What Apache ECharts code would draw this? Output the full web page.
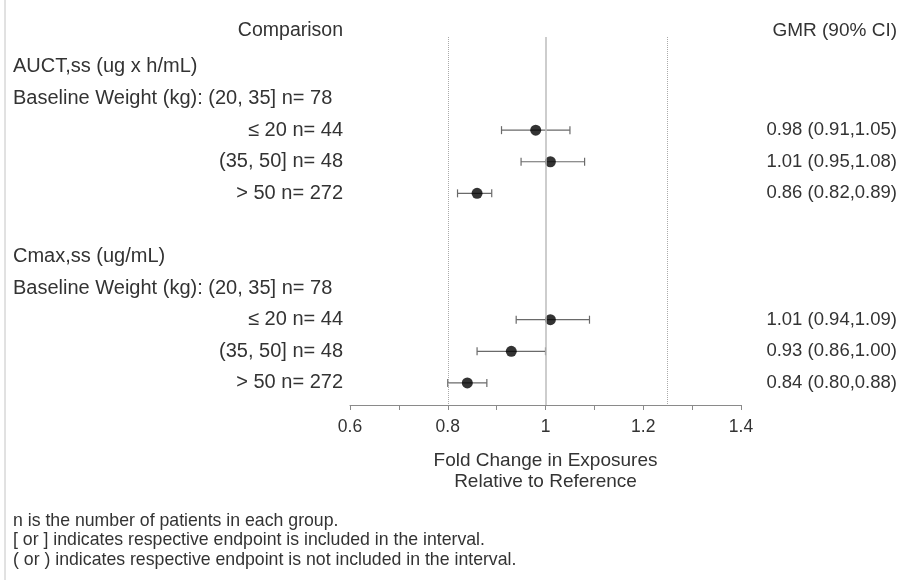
<!DOCTYPE html>
<html>
<head>
<meta charset="utf-8">
<script src="https://cdn.jsdelivr.net/npm/echarts@6/dist/echarts.min.js"></script>
<style>
html,body{margin:0;padding:0;background:#fff;}
#main{width:909px;height:580px;}
</style>
</head>
<body>
<div id="main"></div>
<script>
// ---- data ----
const rowLabels = [
  'AUCT,ss (ug x h/mL)',
  'Baseline Weight (kg): (20, 35] n= 78',
  '\u2264 20 n= 44',
  '(35, 50] n= 48',
  '> 50 n= 272',
  '',
  'Cmax,ss (ug/mL)',
  'Baseline Weight (kg): (20, 35] n= 78',
  '\u2264 20 n= 44',
  '(35, 50] n= 48',
  '> 50 n= 272'
];
const rowAlign = ['left','left','right','right','right','left','left','left','right','right','right'];
const pointRows = [2, 3, 4, 8, 9, 10];
const gmr   = [0.98, 1.01, 0.86, 1.01, 0.93, 0.84];
const lower = [0.91, 0.95, 0.82, 0.94, 0.86, 0.80];
const upper = [1.05, 1.08, 0.89, 1.09, 1.00, 0.88];
const gmrText = ['0.98 (0.91,1.05)','1.01 (0.95,1.08)','0.86 (0.82,0.89)','1.01 (0.94,1.09)','0.93 (0.86,1.00)','0.84 (0.80,0.88)'];
const refLines = [0.8, 1, 1.25];
const xTicks = [0.6, 1.4, 0.2];
const footnotes = [
  'n is the number of patients in each group.',
  '[ or ] indicates respective endpoint is included in the interval.',
  '( or ) indicates respective endpoint is not included in the interval.'
];

const FONT = '"Liberation Sans", Arial, Helvetica, sans-serif';
const TXT = '#333333';

const chart = echarts.init(document.getElementById('main'), null, {renderer:'canvas'});

const errData = pointRows.map((r,i)=>[lower[i], upper[i], r]);
const ptData = pointRows.map((r,i)=>[gmr[i], r]);

const option = {
  animation:false,
  backgroundColor:'#fff',
  grid:{left:350, right:909-741, top:37, bottom:580-405, containLabel:false},
  xAxis:{
    type:'value', min:xTicks[0], max:xTicks[1], interval:xTicks[2],
    axisLine:{show:true, onZero:false, lineStyle:{color:'#8a8a8a', width:1}},
    axisTick:{show:true, length:5, lineStyle:{color:'#8a8a8a'}},
    minorTick:{show:true, splitNumber:2, length:5, lineStyle:{color:'#8a8a8a'}},
    splitLine:{show:false},
    axisLabel:{color:TXT, fontSize:17.5, fontFamily:FONT, margin:13,
      formatter:v=>String(+v.toFixed(1))},
    name:'Fold Change in Exposures\nRelative to Reference',
    nameLocation:'middle', nameGap:45,
    nameTextStyle:{color:TXT, fontSize:19, fontFamily:FONT, lineHeight:21}
  },
  yAxis:{
    type:'value', inverse:true, min:-0.949, max:10.70,
    show:false
  },
  series:[
    {
      type:'custom',
      renderItem:function(params, api){
        const lo = api.coord([api.value(0), api.value(2)]);
        const hi = api.coord([api.value(1), api.value(2)]);
        const st = {stroke:'#6a6a6a', lineWidth:1.2};
        return {type:'group', children:[
          {type:'line', shape:{x1:lo[0], y1:lo[1], x2:hi[0], y2:hi[1]}, style:st},
          {type:'line', shape:{x1:lo[0], y1:lo[1]-4, x2:lo[0], y2:lo[1]+4}, style:st},
          {type:'line', shape:{x1:hi[0], y1:hi[1]-4, x2:hi[0], y2:hi[1]+4}, style:st}
        ]};
      },
      encode:{x:[0,1], y:2},
      data:errData,
      z:3
    },
    {
      type:'scatter',
      data:ptData,
      symbol:'circle', symbolSize:11,
      itemStyle:{color:'#000'},
      z:4,
      markLine:{
        silent:true, symbol:['none','none'], label:{show:false},
        data:refLines.map(v=>({xAxis:v, lineStyle:{color: v===1?'#bdbdbd':'#aaaaaa', type: v===1?'solid':'dotted', width: v===1?1.5:1}}))
      }
    }
  ]
};
chart.setOption(option);

// ---- text (placed through the axis scale) ----
const g = [];
const rowY = r => chart.convertToPixel({yAxisIndex:0}, r);
const txt = (x, y, text, align, size) => ({
  type:'text', x:x, y:y,
  style:{text:text, fill:TXT, font: size+'px '+FONT, textAlign:align, textVerticalAlign:'middle'}
});
g.push(txt(343, 31, 'Comparison', 'right', 19.5));
g.push(txt(897, 31, 'GMR (90% CI)', 'right', 19));
rowLabels.forEach((t,r)=>{
  if(!t) return;
  if(rowAlign[r]==='left') g.push(txt(13, rowY(r), t, 'left', 20));
  else g.push(txt(343, rowY(r), t, 'right', 20));
});
pointRows.forEach((r,i)=>{ g.push(txt(897, rowY(r), gmrText[i], 'right', 18.5)); });
footnotes.forEach((t,i)=>{ g.push(txt(13, 521 + i*19.5, t, 'left', 17.7)); });
g.push({type:'line', shape:{x1:5, y1:0, x2:5, y2:580}, style:{stroke:'#c4c4c4', lineWidth:1}});
chart.setOption({graphic:{elements:g}});
</script>
</body>
</html>
